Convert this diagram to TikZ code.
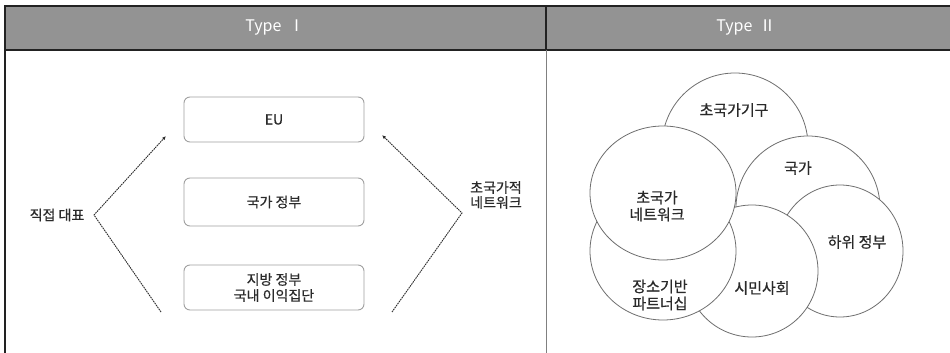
\documentclass[tikz,border=0pt]{standalone}
\usepackage{fontspec}
\setmainfont{Noto Sans CJK KR}[FakeBold=0.6]
\newfontfamily\headfont{Noto Sans CJK KR}
\newfontfamily\numfont{Noto Serif CJK KR}
\usetikzlibrary{shapes.geometric,arrows.meta}
\definecolor{headgray}{HTML}{939393}
\definecolor{rulegray}{HTML}{222222}
\definecolor{txtgray}{HTML}{2A2A2A}
\definecolor{boxgray}{HTML}{A0A0A0}
\definecolor{circgray}{HTML}{6E6E6E}
\tikzset{
  headtext/.style={text=white,font=\headfont\fontsize{16}{18}\selectfont},
  levelbox/.style={draw=boxgray,line width=0.9pt,rounded corners=6pt,minimum width=180pt,minimum height=45pt,inner sep=0pt,text=txtgray,font=\fontsize{14}{17}\selectfont,align=center},
  sidelabel/.style={text=txtgray,font=\fontsize{14}{17}\selectfont,align=center,inner sep=0pt},
  dotline/.style={draw=txtgray,line width=0.9pt,dash pattern=on 1.6pt off 0.8pt},
  tipline/.style={dotline,-{Latex[length=4pt,width=3.4pt]}},
  blob/.style={ellipse,draw=circgray,line width=0.8pt,fill=white,inner sep=0pt},
  blobtext/.style={text=txtgray,font=\fontsize{15}{18}\selectfont,align=center,inner sep=0pt}
}
\begin{document}
\begin{tikzpicture}[x=1pt,y=-1pt]
\useasboundingbox (0,0) rectangle (950,353);
% header
\fill[headgray] (5,6) rectangle (950,50);
\draw[rulegray,line width=1.4pt] (950,6) -- (5,6) -- (5,353);
\draw[rulegray,line width=1.2pt] (5,50) -- (950,50);
\draw[rulegray,line width=1.2pt] (546,6) -- (546,50);
\draw[gray,line width=1pt] (546,50) -- (546,353);
\node[headtext] (h1) at (275,28) {Type\ \ Ⅰ};
\node[headtext] (h2) at (746,28) {Type\ \ Ⅱ};
% Type I
\node[levelbox] (eu) at (274,119.5) {EU};
\node[levelbox,minimum height=48pt] (nat) at (274,202) {국가 정부};
\node[levelbox] (loc) at (274,287.5) {지방 정부\\[-1pt]국내 이익집단};
\node[sidelabel] (dr) at (57,215) {직접 대표};
\node[sidelabel] (tn) at (496,195) {초국가적\\[-2pt]네트워크};
\coordinate (lb) at (161,312);
\coordinate (lv) at (94,215);
\coordinate (lt) at (166,136);
\coordinate (rb) at (392,312);
\coordinate (rv) at (462,213);
\coordinate (rt) at (382,135);
\draw[tipline] (lb) -- (lv) -- (lt);
\draw[tipline] (rb) -- (rv) -- (rt);
% Type II
\node[blob,minimum width=146pt,minimum height=146pt] (sup) at (735,146) {};
\node[blob,minimum width=144pt,minimum height=144pt] (state) at (808,208) {};
\node[blob,minimum width=126pt,minimum height=132pt] (sub) at (840,251) {};
\node[blob,minimum width=132pt,minimum height=132pt] (civ) at (752,271) {};
\node[blob,minimum width=146pt,minimum height=138pt] (place) at (663,251) {};
\node[blob,minimum width=146pt,minimum height=134pt] (net) at (663,193) {};
\node[blobtext] (tsup) at (734,110) {초국가기구};
\node[blobtext] (tstate) at (798,168) {국가};
\node[blobtext] (tsub) at (857,242) {하위 정부};
\node[blobtext] (tciv) at (762,288) {시민사회};
\node[blobtext] (tplace) at (660,295) {장소기반\\[-1pt]파트너십};
\node[blobtext] (tnet) at (657,206) {초국가\\[-1pt]네트워크};
\end{tikzpicture}
\end{document}
